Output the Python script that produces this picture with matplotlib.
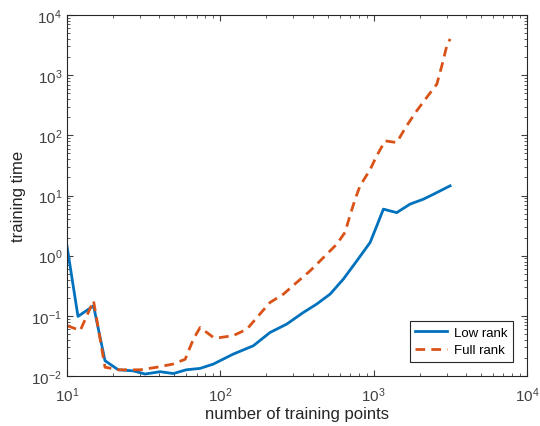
import numpy as np
import matplotlib
matplotlib.use("Agg")
import matplotlib.pyplot as plt

# values (log-log)
x_low = [10, 11.8, 14.9, 17.7, 21.6, 27, 32.3, 40.5, 49.4, 60, 73.8, 90, 121.6, 164, 211,
         271, 348, 425, 520, 635, 776, 948, 1048, 1157, 1413, 1727, 2110, 2454, 3150]
y_low = [1.45, 0.098, 0.147, 0.018, 0.0127, 0.0122, 0.0108, 0.0118, 0.011, 0.0127, 0.0134, 0.0158,
         0.0232, 0.0318, 0.053, 0.073, 0.114, 0.157, 0.23, 0.41, 0.82, 1.66, 3.14, 5.94, 5.2,
         7.2, 8.7, 10.5, 14.5]

x_full = [10, 12.2, 14.9, 17.7, 22, 30, 38.5, 49, 59, 66.7, 73.8, 90, 96, 121.6, 149, 181, 211,
          258, 315, 385, 470, 574, 650, 700, 757, 815, 948, 1048, 1186, 1413, 1640, 1907, 2217,
          2580, 2782, 2997, 3150]
y_full = [0.069, 0.057, 0.178, 0.014, 0.0127, 0.0127, 0.014, 0.0158, 0.019, 0.041, 0.064, 0.044,
          0.043, 0.047, 0.06, 0.107, 0.167, 0.23, 0.36, 0.56, 0.93, 1.55, 2.44, 4.6, 8.7, 14.5,
          27, 46, 81, 76, 144, 255, 427, 708, 1430, 3070, 4000]

plt.rcParams['font.family'] = ['Liberation Sans', 'DejaVu Sans']

fig = plt.figure(figsize=(5.4, 4.27), dpi=100)
ax = fig.add_axes([0.124, 0.117, 0.852, 0.8455])

ax.plot(x_low, y_low, color='#0072BD', lw=2, label='Low rank')
ax.plot(x_full, y_full, color='#D95319', lw=2, ls=(0, (3.5, 2.2)), label='Full rank')

ax.set_xscale('log')
ax.set_yscale('log')
ax.set_xlim(10, 1e4)
ax.set_ylim(1e-2, 1e4)
ax.tick_params(which='both', direction='in', top=True, right=True, colors='#404040',
               labelsize=11)
ax.tick_params(axis='x', which='major', pad=7)
ax.tick_params(which='major', length=4)
ax.tick_params(which='minor', length=2)
for s in ax.spines.values():
    s.set_color('#262626')
    s.set_linewidth(0.8)

ax.set_xlabel('number of training points', fontsize=12, color='#262626', labelpad=1)
ax.set_ylabel('training time', fontsize=12, color='#262626')

leg = ax.legend(loc='lower right', fontsize=9.5, fancybox=False, framealpha=1,
                edgecolor='#262626', handlelength=2.4, handletextpad=0.5,
                borderaxespad=1.1, labelspacing=0.4)
leg.get_frame().set_linewidth(0.8)

fig.savefig('out.png', dpi=100)
